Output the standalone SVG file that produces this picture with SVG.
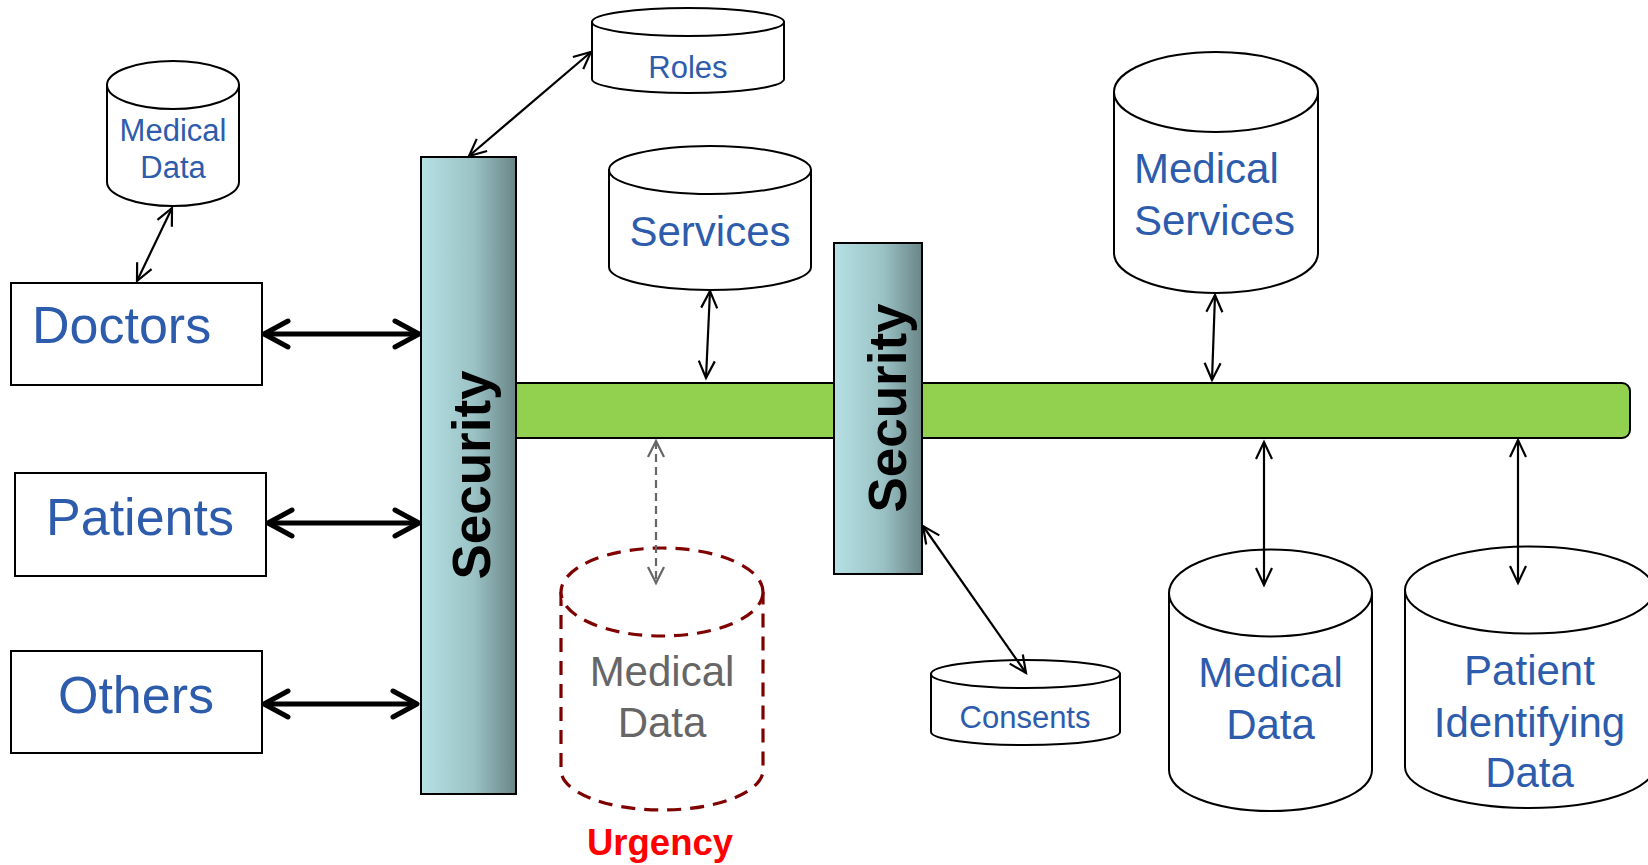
<svg xmlns="http://www.w3.org/2000/svg" width="1648" height="865" viewBox="0 0 1648 865">
<style>
.cyl{fill:#fff;stroke:#000;stroke-width:2}
.box{fill:#fff;stroke:#000;stroke-width:2}
.lbl{font-family:"Liberation Sans",Arial,sans-serif;fill:#2E5CAC}
.sec{font-family:"Liberation Sans",Arial,sans-serif;font-weight:bold;fill:#000;font-size:53px}
.thin{stroke:#000;stroke-width:2.2;fill:none;marker-start:url(#ah);marker-end:url(#ah)}
.thick{stroke:#000;stroke-width:5;fill:none;marker-start:url(#ahb);marker-end:url(#ahb)}
.dash{stroke:#666666;stroke-width:2.2;stroke-dasharray:8 5;fill:none;marker-start:url(#ahg);marker-end:url(#ahg)}
.urg{fill:#fff;stroke:#7F0000;stroke-width:3.2;stroke-dasharray:14 9}
</style>
<defs>
<linearGradient id="secg" x1="0" y1="0" x2="1" y2="0">
<stop offset="0" stop-color="#B6E0E4"/>
<stop offset="0.55" stop-color="#9BC3C6"/>
<stop offset="1" stop-color="#6A8587"/>
</linearGradient>
<marker id="ah" markerUnits="userSpaceOnUse" orient="auto-start-reverse" refX="0" refY="0" markerWidth="30" markerHeight="30" overflow="visible">
<path d="M-17,-8 L0,0 L-17,8" fill="none" stroke="#000" stroke-width="2.2"/>
</marker>
<marker id="ahg" markerUnits="userSpaceOnUse" orient="auto-start-reverse" refX="0" refY="0" markerWidth="30" markerHeight="30" overflow="visible">
<path d="M-16,-8 L0,0 L-16,8" fill="none" stroke="#666666" stroke-width="2.2"/>
</marker>
<marker id="ahb" markerUnits="userSpaceOnUse" orient="auto-start-reverse" refX="0" refY="0" markerWidth="40" markerHeight="40" overflow="visible">
<path d="M-24,-13 L0,0 L-24,13" fill="none" stroke="#000" stroke-width="5" stroke-linecap="round" stroke-linejoin="round"/>
</marker>
</defs>
<rect width="1648" height="865" fill="#fff"/>

<g id="bus">
<rect x="505" y="383" width="1125" height="55" rx="8" fill="#92D050" stroke="#000" stroke-width="2"/>
</g>

<g id="security1">
<rect x="421" y="157" width="95" height="637" fill="url(#secg)" stroke="#000" stroke-width="2"/>
<text class="sec" transform="translate(490,475) rotate(-90)" text-anchor="middle">Security</text>
</g>

<g id="security2">
<rect x="834" y="243" width="88" height="331" fill="url(#secg)" stroke="#000" stroke-width="2"/>
<text class="sec" transform="translate(906,408) rotate(-90)" text-anchor="middle">Security</text>
</g>

<g id="medicaldata-small">
<path class="cyl" d="M107,85 L107,182 A66,24 0 0 0 239,182 L239,85 Z"/>
<ellipse class="cyl" cx="173" cy="85" rx="66" ry="24"/>
<text class="lbl" font-size="31" x="173" y="141" text-anchor="middle">Medical</text>
<text class="lbl" font-size="31" x="173" y="178" text-anchor="middle">Data</text>
</g>

<g id="roles">
<path class="cyl" d="M592,22 L592,79 A96,14 0 0 0 784,79 L784,22 Z"/>
<ellipse class="cyl" cx="688" cy="22" rx="96" ry="14"/>
<text class="lbl" font-size="31" x="688" y="78" text-anchor="middle">Roles</text>
</g>

<g id="services">
<path class="cyl" d="M609,170 L609,267 A101,23 0 0 0 811,267 L811,170 Z"/>
<ellipse class="cyl" cx="710" cy="170" rx="101" ry="24"/>
<text class="lbl" font-size="42" x="710" y="246" text-anchor="middle">Services</text>
</g>

<g id="medicalservices">
<path class="cyl" d="M1114,92 L1114,253 A102,40 0 0 0 1318,253 L1318,92 Z"/>
<ellipse class="cyl" cx="1216" cy="92" rx="102" ry="40"/>
<text class="lbl" font-size="42" x="1134" y="183">Medical</text>
<text class="lbl" font-size="42" x="1134" y="235">Services</text>
</g>

<g id="doctors">
<rect class="box" x="11" y="283" width="251" height="102"/>
<text class="lbl" font-size="52" x="32" y="343">Doctors</text>
</g>

<g id="patients">
<rect class="box" x="15" y="473" width="251" height="103"/>
<text class="lbl" font-size="52" x="140" y="535" text-anchor="middle">Patients</text>
</g>

<g id="others">
<rect class="box" x="11" y="651" width="251" height="102"/>
<text class="lbl" font-size="52" x="136" y="713" text-anchor="middle">Others</text>
</g>

<g id="urgency-medicaldata">
<path class="urg" d="M561,592 L561,770 A101,40 0 0 0 763,770 L763,592"/>
<ellipse class="urg" cx="662" cy="592" rx="101" ry="44"/>
<text font-family="Liberation Sans,Arial,sans-serif" font-size="42" fill="#666666" x="662" y="686" text-anchor="middle">Medical</text>
<text font-family="Liberation Sans,Arial,sans-serif" font-size="42" fill="#666666" x="662" y="737" text-anchor="middle">Data</text>
<text font-family="Liberation Sans,Arial,sans-serif" font-size="36.5" font-weight="bold" fill="#FF0000" x="660" y="855" text-anchor="middle">Urgency</text>
</g>

<g id="consents">
<path class="cyl" d="M931,674 L931,732 A94.5,13 0 0 0 1120,732 L1120,674 Z"/>
<ellipse class="cyl" cx="1025.5" cy="674" rx="94.5" ry="14"/>
<text class="lbl" font-size="31" x="1025" y="728" text-anchor="middle">Consents</text>
</g>

<g id="medicaldata-right">
<path class="cyl" d="M1169,593 L1169,770 A101.5,41 0 0 0 1372,770 L1372,593 Z"/>
<ellipse class="cyl" cx="1270.5" cy="593" rx="101.5" ry="43.5"/>
<text class="lbl" font-size="42" x="1270.5" y="687" text-anchor="middle">Medical</text>
<text class="lbl" font-size="42" x="1270.5" y="739" text-anchor="middle">Data</text>
</g>

<g id="patientidentifying">
<path class="cyl" d="M1405,590 L1405,767 A124.5,41 0 0 0 1654,767 L1654,590 Z"/>
<ellipse class="cyl" cx="1529.5" cy="590" rx="124.5" ry="43.5"/>
<text class="lbl" font-size="42" x="1529.5" y="685" text-anchor="middle">Patient</text>
<text class="lbl" font-size="42" x="1529.5" y="737" text-anchor="middle">Identifying</text>
<text class="lbl" font-size="42" x="1529.5" y="787" text-anchor="middle">Data</text>
</g>

<g id="connectors">
<line class="thick" x1="264" y1="334" x2="419" y2="334"/>
<line class="thick" x1="268" y1="523" x2="419" y2="523"/>
<line class="thick" x1="264" y1="704" x2="417" y2="704"/>
<line class="thin" x1="172" y1="208" x2="137" y2="281"/>
<line class="thin" x1="591" y1="52" x2="469" y2="156"/>
<line class="thin" x1="710" y1="291" x2="706" y2="378"/>
<line class="thin" x1="1215" y1="295" x2="1212" y2="380"/>
<line class="dash" x1="656" y1="441" x2="656" y2="583"/>
<line class="thin" x1="923" y1="526" x2="1026" y2="673"/>
<line class="thin" x1="1264" y1="442" x2="1264" y2="585"/>
<line class="thin" x1="1518" y1="440" x2="1518" y2="583"/>
</g>
</svg>
